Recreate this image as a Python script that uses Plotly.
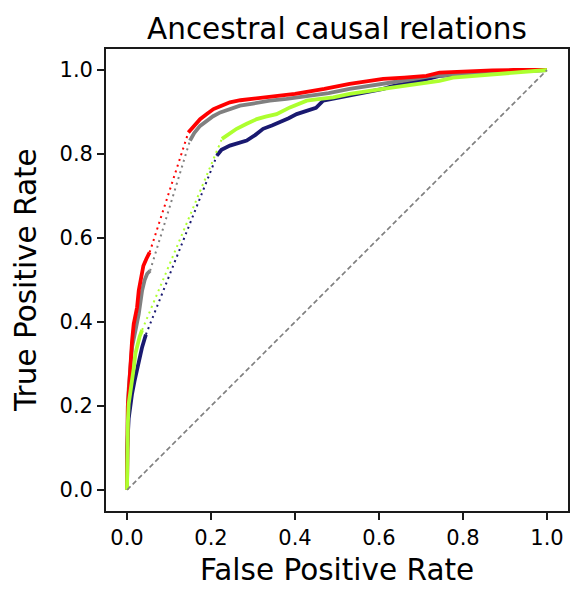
import plotly.graph_objects as go

# ---- data ----
navy_low_fpr = [0, 0, 0.004, 0.008, 0.012, 0.018, 0.024, 0.03, 0.036, 0.042, 0.045]
navy_low_tpr = [0, 0.09, 0.17, 0.205, 0.229, 0.26, 0.29, 0.315, 0.34, 0.36, 0.37]
navy_high_fpr = [0.214, 0.225, 0.245, 0.265, 0.285, 0.305, 0.324, 0.345, 0.364, 0.385, 0.404, 0.428,
                 0.45, 0.467, 0.50, 0.53, 0.57, 0.61, 0.637, 0.67, 0.697, 0.744, 0.80, 0.87, 0.94, 1.0]
navy_high_tpr = [0.796, 0.81, 0.82, 0.825, 0.832, 0.845, 0.86, 0.868, 0.875, 0.885, 0.895, 0.903,
                 0.91, 0.927, 0.933, 0.939, 0.948, 0.955, 0.963, 0.968, 0.974, 0.986, 0.99, 0.995, 0.998, 1.0]

gray_low_fpr = [0, 0, 0.002, 0.004, 0.008, 0.012, 0.02, 0.028, 0.036, 0.042, 0.048, 0.055]
gray_low_tpr = [0, 0.16, 0.20, 0.24, 0.29, 0.34, 0.379, 0.419, 0.475, 0.50, 0.515, 0.522]
gray_high_fpr = [0.150, 0.16, 0.174, 0.19, 0.205, 0.222, 0.245, 0.269, 0.30, 0.34, 0.38, 0.428,
                 0.48, 0.53, 0.60, 0.66, 0.72, 0.78, 0.85, 0.92, 1.0]
gray_high_tpr = [0.832, 0.85, 0.867, 0.88, 0.89, 0.899, 0.908, 0.915, 0.92, 0.927, 0.931, 0.937,
                 0.945, 0.955, 0.965, 0.975, 0.985, 0.99, 0.995, 0.998, 1.0]

red_low_fpr = [0, 0, 0.002, 0.004, 0.006, 0.008, 0.012, 0.016, 0.024, 0.028, 0.034, 0.039, 0.046, 0.054]
red_low_tpr = [0, 0.165, 0.20, 0.229, 0.27, 0.30, 0.355, 0.395, 0.435, 0.475, 0.514, 0.534, 0.55, 0.566]
red_high_fpr = [0.146, 0.155, 0.165, 0.174, 0.19, 0.206, 0.225, 0.245, 0.27, 0.301, 0.33, 0.364, 0.40,
                0.428, 0.47, 0.53, 0.57, 0.61, 0.66, 0.713, 0.744, 0.78, 0.815, 0.87, 0.92, 0.958, 1.0]
red_high_tpr = [0.851, 0.862, 0.873, 0.883, 0.895, 0.907, 0.915, 0.923, 0.928, 0.931, 0.935, 0.939, 0.943,
                0.947, 0.955, 0.967, 0.972, 0.979, 0.982, 0.986, 0.994, 0.996, 0.998, 0.999, 1.0, 1.0, 1.0]

green_low_fpr = [0, 0, 0.002, 0.004, 0.008, 0.012, 0.016, 0.02, 0.024, 0.03, 0.036]
green_low_tpr = [0, 0.086, 0.16, 0.205, 0.229, 0.26, 0.29, 0.325, 0.345, 0.365, 0.381]
green_high_fpr = [0.226, 0.24, 0.261, 0.285, 0.309, 0.33, 0.356, 0.388, 0.428, 0.46, 0.491, 0.53, 0.57,
                  0.61, 0.66, 0.713, 0.744, 0.776, 0.83, 0.895, 0.95, 1.0]
green_high_tpr = [0.836, 0.845, 0.86, 0.872, 0.883, 0.889, 0.895, 0.911, 0.927, 0.931, 0.935, 0.943, 0.948,
                  0.955, 0.962, 0.970, 0.974, 0.982, 0.986, 0.990, 0.995, 1.0]

diag = [0, 1]
ticks = [0.0, 0.2, 0.4, 0.6, 0.8, 1.0]
tick_text = ["0.0", "0.2", "0.4", "0.6", "0.8", "1.0"]

series = [
    ("#191970", navy_low_fpr, navy_low_tpr, navy_high_fpr, navy_high_tpr),
    ("#808080", gray_low_fpr, gray_low_tpr, gray_high_fpr, gray_high_tpr),
    ("#ff0000", red_low_fpr, red_low_tpr, red_high_fpr, red_high_tpr),
    ("#adff2f", green_low_fpr, green_low_tpr, green_high_fpr, green_high_tpr),
]

fig = go.Figure()
for color, lx, ly, hx, hy in series:
    # dotted connector between the two dense parts of the curve
    fig.add_trace(go.Scatter(x=[lx[-1], hx[0]], y=[ly[-1], hy[0]], mode="lines",
                             line=dict(color=color, width=2, dash="2px,4px"),
                             showlegend=False, hoverinfo="skip"))
    fig.add_trace(go.Scatter(x=lx, y=ly, mode="lines",
                             line=dict(color=color, width=3.8), showlegend=False))
    fig.add_trace(go.Scatter(x=hx, y=hy, mode="lines",
                             line=dict(color=color, width=3.8), showlegend=False))

fig.add_trace(go.Scatter(x=diag, y=diag, mode="lines",
                         line=dict(color="#808080", width=1.7, dash="5px,3px"),
                         showlegend=False))

axis_common = dict(
    range=[-0.05, 1.05], tickvals=ticks, ticktext=tick_text, automargin=False,
    showgrid=False, zeroline=False, showline=True, mirror=True,
    linecolor="#1a1a1a", linewidth=1.7, ticks="outside", ticklen=7,
    tickwidth=1.7, tickcolor="#1a1a1a",
    tickfont=dict(family="DejaVu Sans", size=21, color="black"),
)

title_font = dict(family="DejaVu Sans", size=29.5, color="black")

# page body has an 8px default margin, so the figure is 16px smaller than the window
fig.update_layout(
    width=570, height=585,
    margin=dict(l=98, r=10, t=41, b=82),
    plot_bgcolor="white", paper_bgcolor="white",
    xaxis=axis_common,
    yaxis=axis_common,
    annotations=[
        dict(text="Ancestral causal relations", xref="paper", yref="paper",
             x=0.5, y=1.043, xanchor="center", yanchor="middle",
             showarrow=False, font=title_font),
        dict(text="False Positive Rate", xref="paper", yref="paper",
             x=0.5, y=-0.128, xanchor="center", yanchor="middle",
             showarrow=False, font=title_font),
        dict(text="True Positive Rate", xref="paper", yref="paper",
             x=-0.173, y=0.5, xanchor="center", yanchor="middle", textangle=-90,
             showarrow=False, font=title_font),
    ],
)

fig.write_html("out.html")
